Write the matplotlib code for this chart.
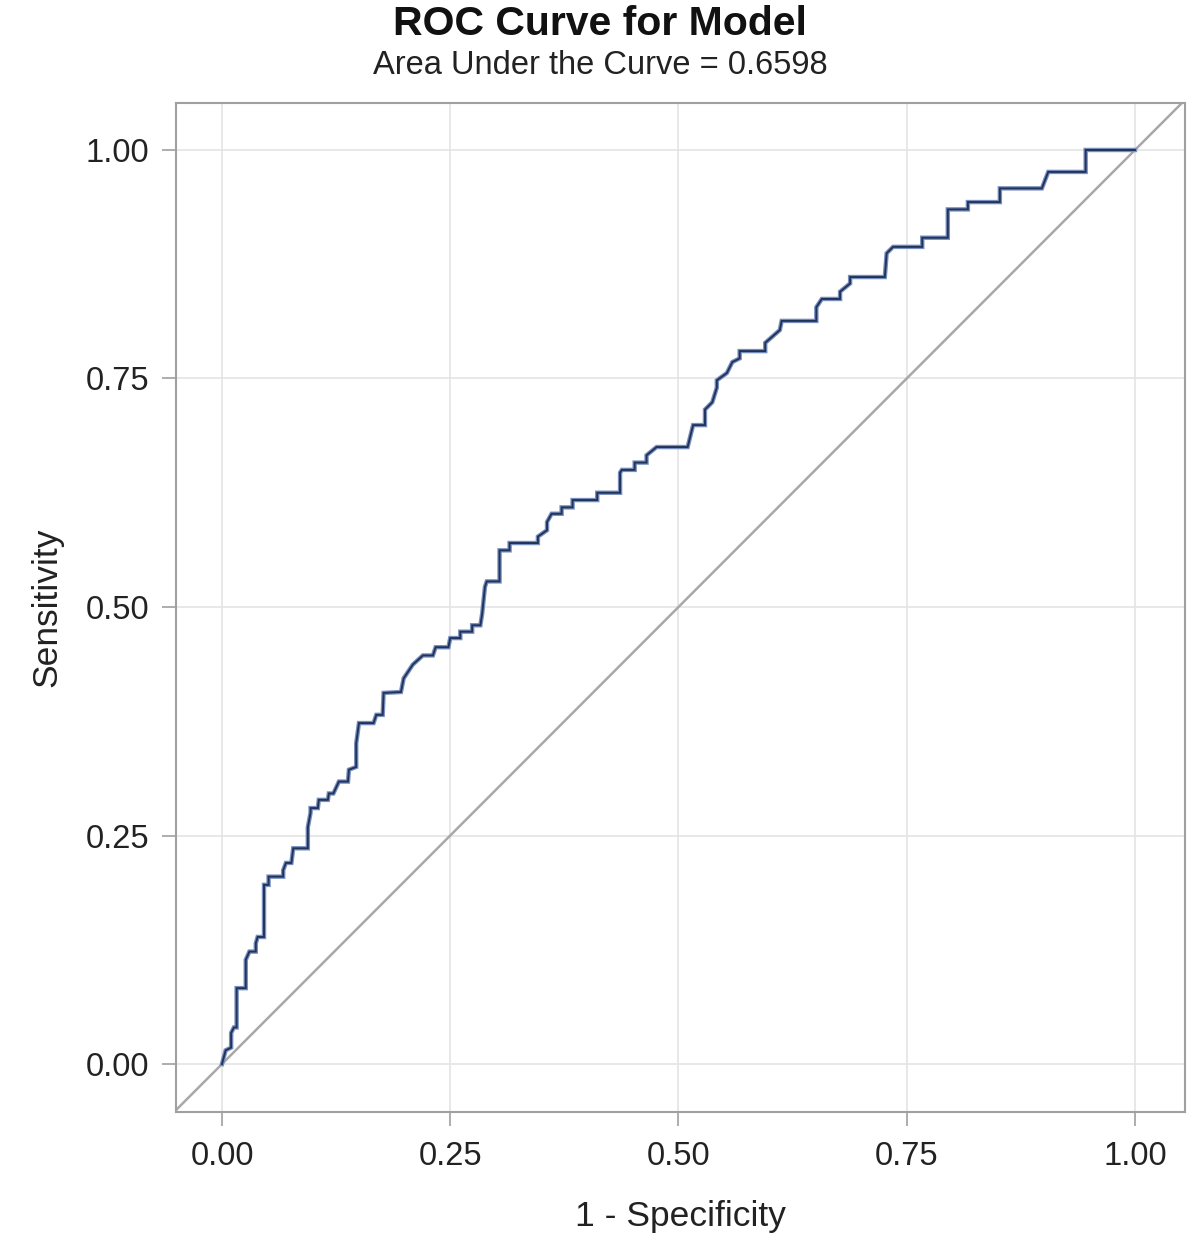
import matplotlib
matplotlib.use("Agg")
import matplotlib.pyplot as plt

plt.rcParams['font.family'] = ['Liberation Sans', 'DejaVu Sans']

# ROC points
fpr = [0.000, 0.001, 0.004, 0.010, 0.010, 0.013, 0.016, 0.016, 0.026, 0.026,
       0.030, 0.037, 0.037, 0.039, 0.046, 0.046, 0.051, 0.051, 0.067, 0.067,
       0.070, 0.076, 0.078, 0.094, 0.094, 0.097, 0.097, 0.105, 0.106, 0.116,
       0.117, 0.122, 0.128, 0.138, 0.139, 0.147, 0.147, 0.150, 0.166, 0.169,
       0.176, 0.177, 0.196, 0.199, 0.209, 0.220, 0.231, 0.234, 0.248, 0.250,
       0.261, 0.261, 0.274, 0.274, 0.283, 0.285, 0.288, 0.290, 0.304, 0.304,
       0.315, 0.315, 0.346, 0.346, 0.356, 0.356, 0.361, 0.372, 0.372, 0.384,
       0.384, 0.411, 0.411, 0.436, 0.436, 0.438, 0.452, 0.452, 0.465, 0.465,
       0.476, 0.510, 0.516, 0.529, 0.529, 0.537, 0.542, 0.542, 0.553, 0.559,
       0.567, 0.567, 0.595, 0.595, 0.611, 0.613, 0.651, 0.651, 0.657, 0.677,
       0.677, 0.688, 0.688, 0.726, 0.728, 0.735, 0.767, 0.767, 0.795, 0.795,
       0.817, 0.817, 0.852, 0.852, 0.898, 0.905, 0.946, 0.946, 1.000]
tpr = [0.000, 0.004, 0.015, 0.018, 0.034, 0.040, 0.040, 0.083, 0.083, 0.114,
       0.123, 0.123, 0.132, 0.139, 0.139, 0.196, 0.196, 0.205, 0.205, 0.212,
       0.220, 0.220, 0.236, 0.236, 0.259, 0.275, 0.280, 0.280, 0.289, 0.289,
       0.296, 0.296, 0.309, 0.309, 0.322, 0.325, 0.351, 0.373, 0.373, 0.382,
       0.382, 0.406, 0.407, 0.422, 0.437, 0.447, 0.447, 0.456, 0.456, 0.466,
       0.466, 0.473, 0.473, 0.480, 0.480, 0.493, 0.522, 0.528, 0.528, 0.562,
       0.562, 0.570, 0.570, 0.577, 0.584, 0.593, 0.602, 0.602, 0.609, 0.609,
       0.617, 0.617, 0.625, 0.625, 0.647, 0.650, 0.650, 0.658, 0.658, 0.666,
       0.675, 0.675, 0.699, 0.699, 0.716, 0.724, 0.740, 0.748, 0.756, 0.768,
       0.772, 0.780, 0.780, 0.789, 0.803, 0.813, 0.813, 0.828, 0.837, 0.837,
       0.845, 0.854, 0.861, 0.861, 0.887, 0.894, 0.894, 0.904, 0.904, 0.935,
       0.935, 0.943, 0.943, 0.958, 0.958, 0.976, 0.976, 1.000, 1.000]
auc = 0.6598
ticks = [0.00, 0.25, 0.50, 0.75, 1.00]
tick_labels = ["0.00", "0.25", "0.50", "0.75", "1.00"]

fig = plt.figure(figsize=(12, 12.43), dpi=100)
ax = fig.add_axes([176 / 1200, 1 - 1112 / 1243, (1185 - 176) / 1200, (1112 - 103) / 1243])

ax.set_xlim(-0.0504, 1.0548)
ax.set_ylim(-0.0525, 1.0514)

ax.grid(True, color="#e4e4e4", linewidth=1.2)
ax.set_axisbelow(True)

ax.plot([-0.06, 1.06], [-0.06, 1.06], color="#a8a8a8", linewidth=1.8, zorder=2)
ax.plot(fpr, tpr, color="#7890c0", linewidth=3.2, zorder=3, solid_joinstyle="miter")
ax.plot(fpr, tpr, color="#22335a", linewidth=1.4, zorder=4, solid_joinstyle="miter")

ax.set_xticks(ticks)
ax.set_xticklabels(tick_labels)
ax.set_yticks(ticks)
ax.set_yticklabels(tick_labels)
ax.tick_params(direction="out", length=10, width=1.2, color="#a0a0a0",
               labelsize=23.5, labelcolor="#222222")
ax.tick_params(axis="x", pad=11)
ax.tick_params(axis="y", pad=9.5)

for s in ax.spines.values():
    s.set_color("#a0a0a0")
    s.set_linewidth(1.5)

ax.set_xlabel("1 - Specificity", fontsize=25.5, color="#222222", labelpad=20)
ax.set_ylabel("Sensitivity", fontsize=25.5, color="#222222", labelpad=16)

fig.text(0.5, 1 - 24 / 1243, "ROC Curve for Model", ha="center", va="center",
         fontsize=29.5, fontweight="bold", color="#111111")
fig.text(0.5, 1 - 66 / 1243, "Area Under the Curve = %.4f" % auc, ha="center",
         va="center", fontsize=23.5, color="#222222")

fig.savefig("out.png", dpi=100, facecolor="white")
